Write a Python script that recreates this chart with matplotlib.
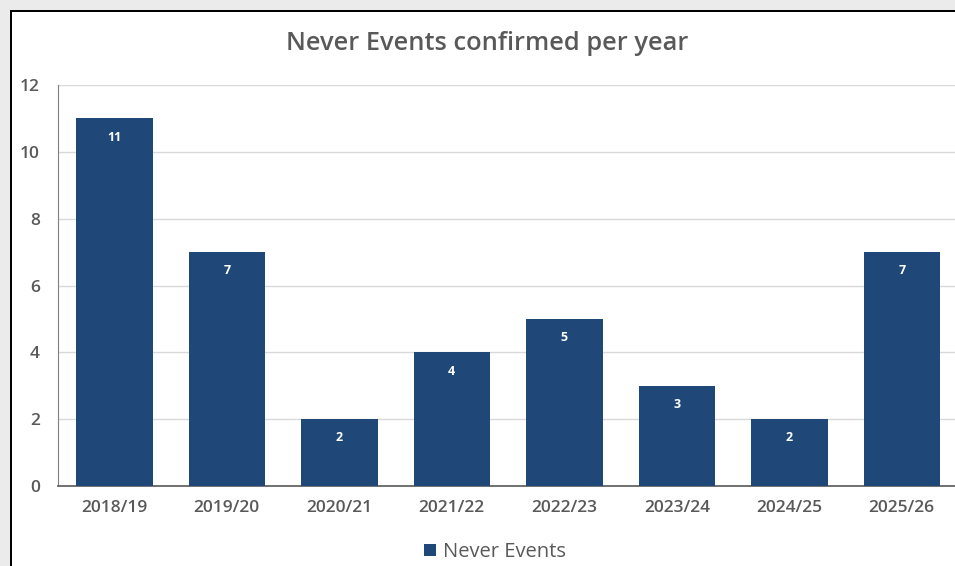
import matplotlib.pyplot as plt
from matplotlib.patches import Rectangle

# Data
years = ['2018/19', '2019/20', '2020/21', '2021/22', '2022/23', '2023/24', '2024/25', '2025/26']
never_events = [11, 7, 2, 4, 5, 3, 2, 7]

bar_color = '#1F4878'
text_color = '#595959'

plt.rcParams['font.family'] = ['Open Sans', 'DejaVu Sans']

W, H = 955, 566
fig = plt.figure(figsize=(W / 100, H / 100), dpi=100)
fig.patch.set_facecolor('white')

# gray screenshot margin on top/left, black frame line
fig.patches.append(Rectangle((0, 1 - 10 / H), 1, 10 / H, transform=fig.transFigure,
                             facecolor='#EBEBEB', edgecolor='none', zorder=-5))
fig.patches.append(Rectangle((0, 0), 10 / W, 1, transform=fig.transFigure,
                             facecolor='#EBEBEB', edgecolor='none', zorder=-5))
fig.patches.append(Rectangle((10 / W, 1 - 12 / H), 1, 2 / H, transform=fig.transFigure,
                             facecolor='black', edgecolor='none', zorder=-4))
fig.patches.append(Rectangle((10 / W, 0), 2 / W, 1 - 10 / H, transform=fig.transFigure,
                             facecolor='black', edgecolor='none', zorder=-4))

# plot area runs to the right edge of the image
ax = fig.add_axes([58 / W, (H - 486) / H, (W - 58) / W, (486 - 85) / H])
ax.set_facecolor('white')

x = range(len(years))
bars = ax.bar(x, never_events, width=0.68, color=bar_color, label='Never Events', zorder=3)

for i, v in enumerate(never_events):
    ax.annotate(str(v), (i, v), xytext=(0, -13.5), textcoords='offset points',
                ha='center', va='center', color='white', fontsize=9, fontweight='bold', zorder=4)

ax.set_xlim(-0.5, len(years) - 0.5 - 3 / 112.5)
ax.set_ylim(0, 12)
ax.set_yticks(range(0, 13, 2))
ax.set_xticks(list(x))
ax.set_xticklabels(years)
ax.tick_params(axis='both', length=0, labelsize=12.5, colors=text_color)
for lbl in ax.get_xticklabels() + ax.get_yticklabels():
    lbl.set_fontweight('semibold')
ax.tick_params(axis='y', pad=13)
ax.tick_params(axis='x', pad=10)
ax.grid(axis='y', color='#D9D9D9', linewidth=1, zorder=0)

for s in ['top', 'right']:
    ax.spines[s].set_visible(False)
ax.spines['left'].set_color('#7F7F7F')
ax.spines['bottom'].set_color('#595959')
ax.spines['bottom'].set_linewidth(1.2)

fig.text(487 / W, 1 - 44 / H, 'Never Events confirmed per year', ha='center', va='center',
         fontsize=18.3, fontweight='semibold', color=text_color)

fig.legend(handles=[bars], labels=['Never Events'], loc='center', bbox_to_anchor=(495 / W, 1 - 552 / H),
           frameon=False, fontsize=14.5, labelcolor=text_color, handlelength=0.55, handleheight=0.55,
           handletextpad=0.35)

fig.savefig('out.png', dpi=100, facecolor=fig.get_facecolor())
